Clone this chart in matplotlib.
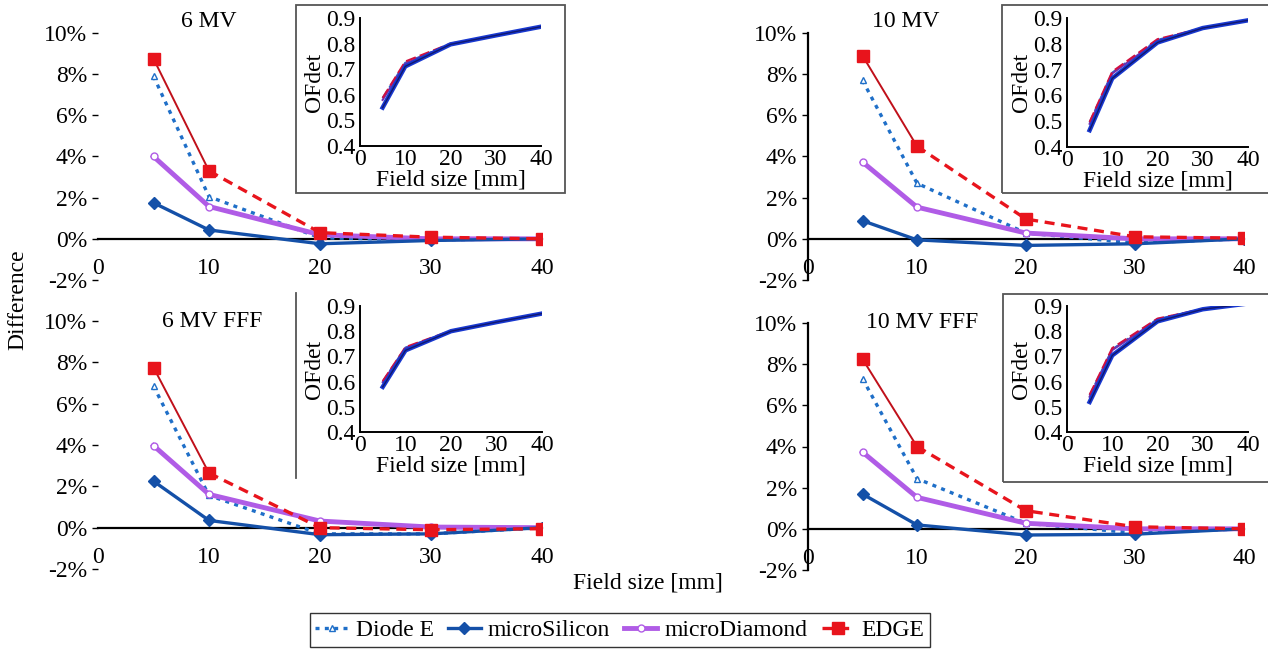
import matplotlib
matplotlib.use("Agg")
import matplotlib.pyplot as plt
from matplotlib.patches import Rectangle
from matplotlib.lines import Line2D
from matplotlib.ticker import FuncFormatter

plt.rcParams['font.family'] = ['Liberation Serif', 'DejaVu Serif']
plt.rcParams['font.size'] = 17

# field sizes [mm]
field = [5, 10, 20, 30, 40]
panels = ["6 MV", "10 MV", "6 MV FFF", "10 MV FFF"]
detectors = ["Diode E", "microSilicon", "microDiamond", "EDGE"]

# difference [%] per panel
diode_diff = [
    [7.9, 2.05, 0.05, -0.05, 0.0],
    [7.7, 2.7, 0.28, -0.2, 0.0],
    [6.85, 1.56, -0.3, -0.3, 0.0],
    [7.3, 2.44, 0.27, -0.2, 0.0],
]
silicon_diff = [
    [1.75, 0.43, -0.24, -0.08, 0.0],
    [0.88, -0.05, -0.32, -0.24, 0.0],
    [2.25, 0.35, -0.34, -0.3, 0.0],
    [1.69, 0.19, -0.3, -0.26, 0.0],
]
diamond_diff = [
    [4.0, 1.57, 0.2, 0.0, 0.0],
    [3.73, 1.54, 0.28, 0.0, 0.0],
    [3.97, 1.61, 0.32, 0.03, 0.0],
    [3.73, 1.53, 0.27, 0.0, 0.0],
]
edge_diff = [
    [8.75, 3.3, 0.3, 0.08, 0.0],
    [8.9, 4.5, 0.96, 0.1, 0.03],
    [7.75, 2.64, 0.0, -0.1, -0.05],
    [8.25, 4.0, 0.88, 0.1, 0.0],
]

# OFdet per panel (inset)
diode_of = [
    [0.587, 0.725, 0.797, 0.832, 0.866],
    [0.495, 0.688, 0.815, 0.861, 0.891],
    [0.600, 0.735, 0.800, 0.836, 0.870],
    [0.545, 0.728, 0.848, 0.888, 0.91],
]
silicon_of = [
    [0.550, 0.711, 0.797, 0.832, 0.866],
    [0.465, 0.666, 0.805, 0.861, 0.891],
    [0.579, 0.724, 0.800, 0.836, 0.870],
    [0.519, 0.704, 0.839, 0.887, 0.91],
]
diamond_of = [
    [0.580, 0.722, 0.797, 0.832, 0.866],
    [0.490, 0.685, 0.812, 0.861, 0.891],
    [0.598, 0.733, 0.800, 0.836, 0.870],
    [0.540, 0.725, 0.845, 0.888, 0.91],
]
edge_of = [
    [0.588, 0.730, 0.800, 0.832, 0.866],
    [0.497, 0.692, 0.818, 0.861, 0.891],
    [0.602, 0.737, 0.802, 0.836, 0.870],
    [0.548, 0.733, 0.850, 0.888, 0.91],
]

c_diode = "#1f6fc8"
c_sil = "#1450a8"
c_dia = "#b05ce6"
c_edge = "#e8141c"

W, H = 1268, 654


def px(l, r, t, b):
    return [l / W, 1 - b / H, (r - l) / W, (b - t) / H]


main_pos = [px(98, 542, 33, 280), px(808, 1244, 33, 280),
            px(98, 542, 321, 569), px(808, 1244, 323, 570)]
inset_pos = [px(360, 541, 18, 146), px(1067, 1248, 18, 147),
             px(360, 542, 306, 432), px(1067, 1248, 306, 432)]
title_xy = [(10, 10.55), (9, 10.55), (10.3, 10.0), (10.5, 10.0)]

fig = plt.figure(figsize=(12.68, 6.54), dpi=100)

for i in range(4):
    ax = fig.add_axes(main_pos[i])
    ax.patch.set_alpha(0)
    ax.set_xlim(0, 40)
    ax.set_ylim(-2, 10)
    ax.set_xticks([0, 10, 20, 30, 40])
    ax.set_yticks([-2, 0, 2, 4, 6, 8, 10])
    ax.yaxis.set_major_formatter(FuncFormatter(lambda v, p: f"{v:.0f}%"))
    for s in ["top", "right"]:
        ax.spines[s].set_visible(False)
    ax.spines["bottom"].set_position(("data", 0))
    ax.spines["bottom"].set_linewidth(1.6)
    ax.spines["left"].set_linewidth(1.6)
    if i in (0, 2):
        ax.spines["left"].set_visible(False)
    ax.tick_params(axis="x", length=0, pad=14, labelsize=17)
    ax.tick_params(axis="y", length=4, width=1, pad=4, labelsize=17)

    ax.plot(field, diode_diff[i], color=c_diode, lw=2.4, ls=(0, (1.2, 1.6)),
            marker="^", ms=5, mfc="white", mec=c_diode, zorder=3)
    ax.plot(field, silicon_diff[i], color=c_sil, lw=2.4, marker="D", ms=6,
            zorder=4)
    ax.plot(field, diamond_diff[i], color=c_dia, lw=3.5, marker="o", ms=5,
            mfc="white", mec=c_dia, zorder=3)
    ax.plot(field[:2], edge_diff[i][:2], color="#c0101a", lw=1.4, zorder=5)
    ax.plot(field[1:], edge_diff[i][1:], color=c_edge, lw=2.4, ls=(0, (3, 2)),
            zorder=5)
    ax.plot(field, edge_diff[i], ls="none", marker="s", ms=9, color=c_edge,
            zorder=6)
    ax.text(title_xy[i][0], title_xy[i][1], panels[i], ha="center",
            va="center", fontsize=17)

    ins = fig.add_axes(inset_pos[i])
    ins.patch.set_alpha(0)
    ins.set_xlim(0, 40)
    ins.set_ylim(0.4, 0.9)
    ins.set_xticks([0, 10, 20, 30, 40])
    ins.set_yticks([0.4, 0.5, 0.6, 0.7, 0.8, 0.9])
    for s in ["top", "right"]:
        ins.spines[s].set_visible(False)
    ins.spines["left"].set_linewidth(1.4)
    ins.spines["bottom"].set_linewidth(1.4)
    ins.tick_params(axis="x", length=0, pad=2, labelsize=17)
    ins.tick_params(axis="y", length=0, pad=3, labelsize=17)
    ins.set_xlabel("Field size [mm]", fontsize=17, labelpad=0)
    ins.set_ylabel("OFdet", fontsize=17, labelpad=1)
    ins.plot(field, diode_of[i], color=c_diode, lw=1.5, ls=(0, (4, 2)))
    ins.plot(field, diamond_of[i], color="#7030b0", lw=1.5)
    ins.plot(field, edge_of[i], color="#d01040", lw=1.5, ls=(0, (5, 2)))
    ins.plot(field, silicon_of[i], color="#1838d0", lw=3.2)
    ins.plot(field, silicon_of[i], color="#101870", lw=1.0)

# inset frames
frame = dict(transform=fig.transFigure, fill=False, edgecolor="#555555", lw=1.3)
fig.add_artist(Rectangle((296 / W, 1 - 193 / H), 269 / W, 188 / H, **frame))
fig.add_artist(Rectangle((1002 / W, 1 - 193 / H), 270 / W, 188 / H, **frame))
fig.add_artist(Rectangle((1003 / W, 1 - 482 / H), 270 / W, 188 / H, **frame))
fig.add_artist(Line2D([296 / W, 296 / W], [1 - 478 / H, 1 - 293 / H],
                      transform=fig.transFigure, color="#555555", lw=1.3))

fig.text(18 / W, 1 - 300 / H, "Difference", rotation=90, ha="center",
         va="center", fontsize=17)
fig.text(648 / W, 1 - 583 / H, "Field size [mm]", ha="center", va="center",
         fontsize=17)

handles = [
    Line2D([], [], color=c_diode, lw=2.4, ls=(0, (1.2, 1.6)), marker="^",
           ms=5, mfc="white", mec=c_diode),
    Line2D([], [], color=c_sil, lw=2.4, marker="D", ms=6),
    Line2D([], [], color=c_dia, lw=3.5, marker="o", ms=5, mfc="white",
           mec=c_dia),
    Line2D([], [], color=c_edge, lw=2.4, ls=(0, (3, 2)), marker="s", ms=9),
]
leg = fig.legend(handles, detectors, loc="center", ncol=4,
                 bbox_to_anchor=(620 / W, 1 - 630 / H), fontsize=17,
                 frameon=True, fancybox=False, edgecolor="black",
                 handlelength=1.4, handletextpad=0.3, columnspacing=0.6,
                 borderpad=0.25, borderaxespad=0)
leg.get_frame().set_linewidth(1.0)

fig.savefig("out.png", dpi=100)
